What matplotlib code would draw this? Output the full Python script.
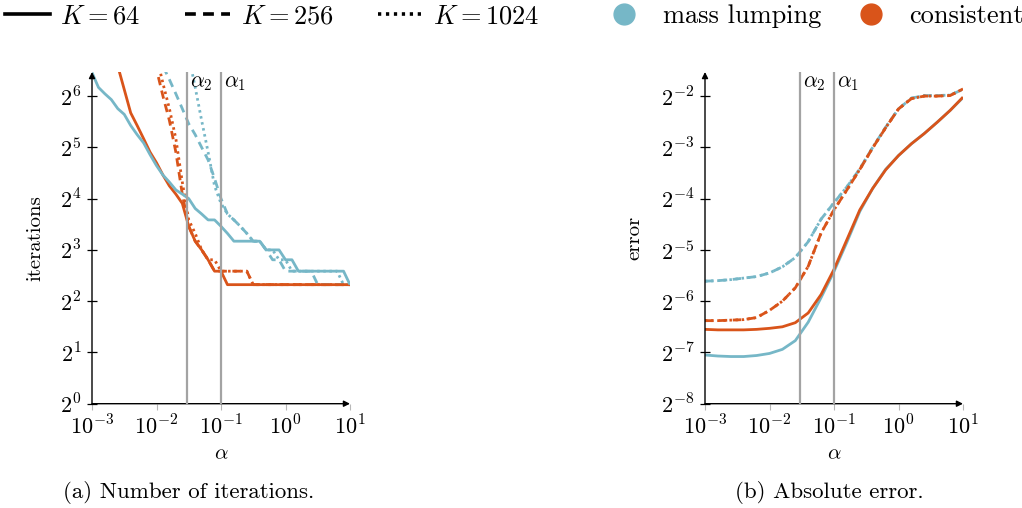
#!/usr/bin/env python3
"""Solver iterations and absolute error against the regularisation parameter alpha."""

from __future__ import annotations

import matplotlib

matplotlib.use("Agg")
import matplotlib.pyplot as plt
from matplotlib.lines import Line2D
from matplotlib.ticker import NullFormatter, NullLocator

plt.rcParams["font.family"] = "cmr10"
plt.rcParams["mathtext.fontset"] = "cm"
plt.rcParams["axes.formatter.use_mathtext"] = True

BLUE = "#76b7c7"
ORANGE = "#d9541a"
GREY = "#a3a3a3"

ALPHA_2 = 0.03
ALPHA_1 = 0.1

# iteration counts, sampled every 0.1 decades of alpha
ITER_EXPONENTS = [
    -3.0, -2.9, -2.8, -2.7, -2.6, -2.5, -2.4, -2.3, -2.2, -2.1,
    -2.0, -1.9, -1.8, -1.7, -1.6, -1.5, -1.4, -1.3, -1.2, -1.1,
    -1.0, -0.9, -0.8, -0.7, -0.6, -0.5, -0.4, -0.3, -0.2, -0.1,
    0.0, 0.1, 0.2, 0.3, 0.4, 0.5, 0.6, 0.7, 0.8, 0.9, 1.0,
]
ITER_ML_64 = [
    88, 72, 66, 61, 54, 50, 43, 38, 34, 29,
    25, 22, 20, 18, 17, 16, 14, 13, 12, 12,
    11, 10, 9, 9, 9, 9, 9, 8, 8, 8,
    7, 7, 6, 6, 6, 6, 6, 6, 6, 6, 5,
]
ITER_ML_256 = [
    400, 350, 300, 260, 225, 195, 170, 148, 130, 115,
    104, 96, 80, 66, 54, 44, 38, 32, 27, 21,
    16, 13, 12, 11, 10, 9, 9, 8, 7, 7,
    6, 6, 6, 6, 6, 5, 5, 5, 5, 5, 5,
]
ITER_ML_1024 = [
    900, 820, 750, 680, 610, 550, 490, 440, 390, 345,
    305, 265, 230, 190, 150, 110, 72, 46, 30, 19,
    15, 13, 12, 11, 10, 9, 9, 8, 8, 7,
    7, 6, 6, 6, 6, 6, 6, 6, 6, 5, 5,
]
ITER_CONS_64 = [
    300, 240, 190, 130, 96, 70, 51, 43, 36, 30,
    26, 22, 19, 17, 15, 11, 9, 8, 7, 6,
    6, 5, 5, 5, 5, 5, 5, 5, 5, 5,
    5, 5, 5, 5, 5, 5, 5, 5, 5, 5, 5,
]
ITER_CONS_256 = [
    600, 520, 450, 390, 330, 280, 230, 190, 155, 120,
    92, 64, 46, 30, 17, 11, 9, 8, 7, 6,
    6, 6, 6, 6, 6, 5, 5, 5, 5, 5,
    5, 5, 5, 5, 5, 5, 5, 5, 5, 5, 5,
]
ITER_CONS_1024 = [
    700, 610, 530, 460, 390, 330, 270, 215, 170, 135,
    110, 76, 54, 36, 20, 12, 10, 8, 7, 7,
    6, 6, 6, 6, 6, 5, 5, 5, 5, 5,
    5, 5, 5, 5, 5, 5, 5, 5, 5, 5, 5,
]

# log2 of the absolute error, sampled every 0.2 decades of alpha
ERR_EXPONENTS = [
    -3.0, -2.8, -2.6, -2.4, -2.2, -2.0, -1.8, -1.6, -1.4, -1.2,
    -1.0, -0.8, -0.6, -0.4, -0.2, 0.0, 0.2, 0.4, 0.6, 0.8, 1.0,
]
LOG2_ERR_ML_64 = [
    -7.05, -7.07, -7.08, -7.08, -7.06, -7.02, -6.94, -6.77, -6.41, -5.93,
    -5.42, -4.85, -4.25, -3.80, -3.43, -3.16, -2.93, -2.73, -2.51, -2.28, -2.03,
]
LOG2_ERR_ML_256 = [
    -5.61, -5.60, -5.58, -5.55, -5.52, -5.45, -5.33, -5.15, -4.84, -4.40,
    -4.08, -3.77, -3.42, -3.00, -2.61, -2.25, -2.04, -1.99, -1.99, -1.98, -1.87,
]
LOG2_ERR_ML_1024 = [
    -5.61, -5.60, -5.58, -5.55, -5.52, -5.45, -5.33, -5.15, -4.84, -4.40,
    -4.08, -3.77, -3.42, -3.00, -2.61, -2.25, -2.04, -1.99, -1.99, -1.98, -1.87,
]
LOG2_ERR_CONS_64 = [
    -6.55, -6.56, -6.56, -6.56, -6.55, -6.53, -6.50, -6.42, -6.23, -5.87,
    -5.38, -4.80, -4.22, -3.80, -3.44, -3.16, -2.93, -2.73, -2.51, -2.28, -2.02,
]
LOG2_ERR_CONS_256 = [
    -6.38, -6.38, -6.37, -6.36, -6.32, -6.18, -6.00, -5.74, -5.32, -4.67,
    -4.22, -3.83, -3.43, -3.01, -2.62, -2.25, -2.05, -2.00, -2.00, -1.99, -1.86,
]
LOG2_ERR_CONS_1024 = [
    -6.38, -6.38, -6.37, -6.36, -6.32, -6.18, -6.00, -5.74, -5.32, -4.67,
    -4.22, -3.83, -3.43, -3.01, -2.62, -2.25, -2.05, -2.00, -2.00, -1.99, -1.86,
]

X_TICK_EXPONENTS = [-3, -2, -1, 0, 1]
ITER_TICK_EXPONENTS = [0, 1, 2, 3, 4, 5, 6]
ERR_TICK_EXPONENTS = [-8, -7, -6, -5, -4, -3, -2]

LINE_STYLES = {
    64: "-",
    256: (0, (3.0, 2.0)),
    1024: (0, (0.9, 1.3)),
}
LW = 2.0
TICK_SIZE = 16
LABEL_SIZE = 15


def _style_axes(ax, *, y_exponents, y_lim, ylabel, ylabel_x):
    ax.set_xscale("log")
    ax.set_yscale("log", base=2)
    ax.set_xlim(1e-3, 1e1)
    ax.set_ylim(*y_lim)

    ax.set_xticks([10.0**e for e in X_TICK_EXPONENTS])
    ax.set_xticklabels([rf"$10^{{{e}}}$" for e in X_TICK_EXPONENTS])
    ax.xaxis.set_minor_formatter(NullFormatter())
    ax.set_yticks([2.0**e for e in y_exponents])
    ax.set_yticklabels([rf"$2^{{{e}}}$" for e in y_exponents])
    ax.yaxis.set_minor_locator(NullLocator())

    ax.tick_params(axis="x", which="major", direction="out", length=4.5, width=0.8,
                   color="#b8b8b8", labelsize=TICK_SIZE, pad=3)
    ax.tick_params(axis="x", which="minor", direction="out", length=3, width=0.6,
                   color="#c8c8c8")
    ax.tick_params(axis="y", which="major", direction="inout", length=7, width=0.9,
                   color="black", labelsize=TICK_SIZE, pad=4)

    for spine in ax.spines.values():
        spine.set_visible(False)
    arrow = dict(arrowstyle="-|>", color="black", lw=1.0, mutation_scale=9,
                 shrinkA=0, shrinkB=0)
    ax.annotate("", xy=(1.0, 0.0), xytext=(0.0, 0.0), xycoords="axes fraction",
                arrowprops=arrow, annotation_clip=False)
    ax.annotate("", xy=(0.0, 1.0), xytext=(0.0, 0.0), xycoords="axes fraction",
                arrowprops=arrow, annotation_clip=False)

    ax.set_xlabel(r"$\alpha$", fontsize=LABEL_SIZE)
    ax.xaxis.set_label_coords(0.5, -0.125)
    ax.set_ylabel(ylabel, fontsize=LABEL_SIZE)
    ax.yaxis.set_label_coords(ylabel_x, 0.5)

    for value, name in ((ALPHA_2, r"$\alpha_2$"), (ALPHA_1, r"$\alpha_1$")):
        ax.axvline(value, color=GREY, lw=1.6, zorder=4)
        ax.text(value * 1.12, 0.965, name, transform=ax.get_xaxis_transform(),
                fontsize=15.5, ha="left", va="center", zorder=5)


def _plot_iterations(ax):
    alpha = [10.0**e for e in ITER_EXPONENTS]
    series = [
        (ITER_CONS_1024, ORANGE, 1024),
        (ITER_ML_1024, BLUE, 1024),
        (ITER_CONS_256, ORANGE, 256),
        (ITER_ML_256, BLUE, 256),
        (ITER_CONS_64, ORANGE, 64),
        (ITER_ML_64, BLUE, 64),
    ]
    for values, color, k in series:
        ax.plot(alpha, values, color=color, lw=LW, linestyle=LINE_STYLES[k],
                solid_capstyle="butt")
    _style_axes(ax, y_exponents=ITER_TICK_EXPONENTS, y_lim=(1.0, 2.0**6.47),
                ylabel="iterations", ylabel_x=-0.185)


def _plot_error(ax):
    alpha = [10.0**e for e in ERR_EXPONENTS]
    series = [
        (LOG2_ERR_ML_256, BLUE, 256),
        (LOG2_ERR_ML_1024, BLUE, 1024),
        (LOG2_ERR_CONS_256, ORANGE, 256),
        (LOG2_ERR_CONS_1024, ORANGE, 1024),
        (LOG2_ERR_ML_64, BLUE, 64),
        (LOG2_ERR_CONS_64, ORANGE, 64),
    ]
    for values, color, k in series:
        ax.plot(alpha, [2.0**v for v in values], color=color, lw=LW,
                linestyle=LINE_STYLES[k], solid_capstyle="butt")
    _style_axes(ax, y_exponents=ERR_TICK_EXPONENTS, y_lim=(2.0**-8, 2.0**-1.53),
                ylabel="error", ylabel_x=-0.24)


def main() -> int:
    fig = plt.figure(figsize=(10.22, 5.08), dpi=100)
    width, height = 258 / 1022, 331.7 / 508
    bottom = 1 - 403.7 / 508
    ax_iter = fig.add_axes((92 / 1022, bottom, width, height))
    ax_err = fig.add_axes((705 / 1022, bottom, width, height))

    _plot_iterations(ax_iter)
    _plot_error(ax_err)

    style_handles = [
        Line2D([], [], color="black", lw=2.6, linestyle=LINE_STYLES[k])
        for k in (64, 256, 1024)
    ]
    style_labels = [r"$K = 64$", r"$K = 256$", r"$K = 1024$"]
    fig.legend(style_handles, style_labels, loc="center left",
               bbox_to_anchor=(5 / 1022, 0.968), ncol=3, frameon=False,
               fontsize=19, handlelength=1.7, handletextpad=0.4,
               columnspacing=1.7, borderpad=0.0, borderaxespad=0.0)

    method_handles = [
        Line2D([], [], color=color, marker="o", linestyle="none", markersize=15)
        for color in (BLUE, ORANGE)
    ]
    fig.legend(method_handles, ["mass lumping", "consistent"], loc="center left",
               bbox_to_anchor=(602 / 1022, 0.968), ncol=2, frameon=False,
               fontsize=19, handlelength=1.7, handletextpad=0.6,
               columnspacing=1.05, borderpad=0.0, borderaxespad=0.0)

    fig.text(189 / 1022, 1 - 493 / 508, "(a) Number of iterations.", fontsize=16.5,
             ha="center", va="center")
    fig.text(829 / 1022, 1 - 493 / 508, "(b) Absolute error.", fontsize=16.5,
             ha="center", va="center")

    fig.savefig("out.png", dpi=100)
    plt.close(fig)
    return 0


if __name__ == "__main__":
    raise SystemExit(main())
